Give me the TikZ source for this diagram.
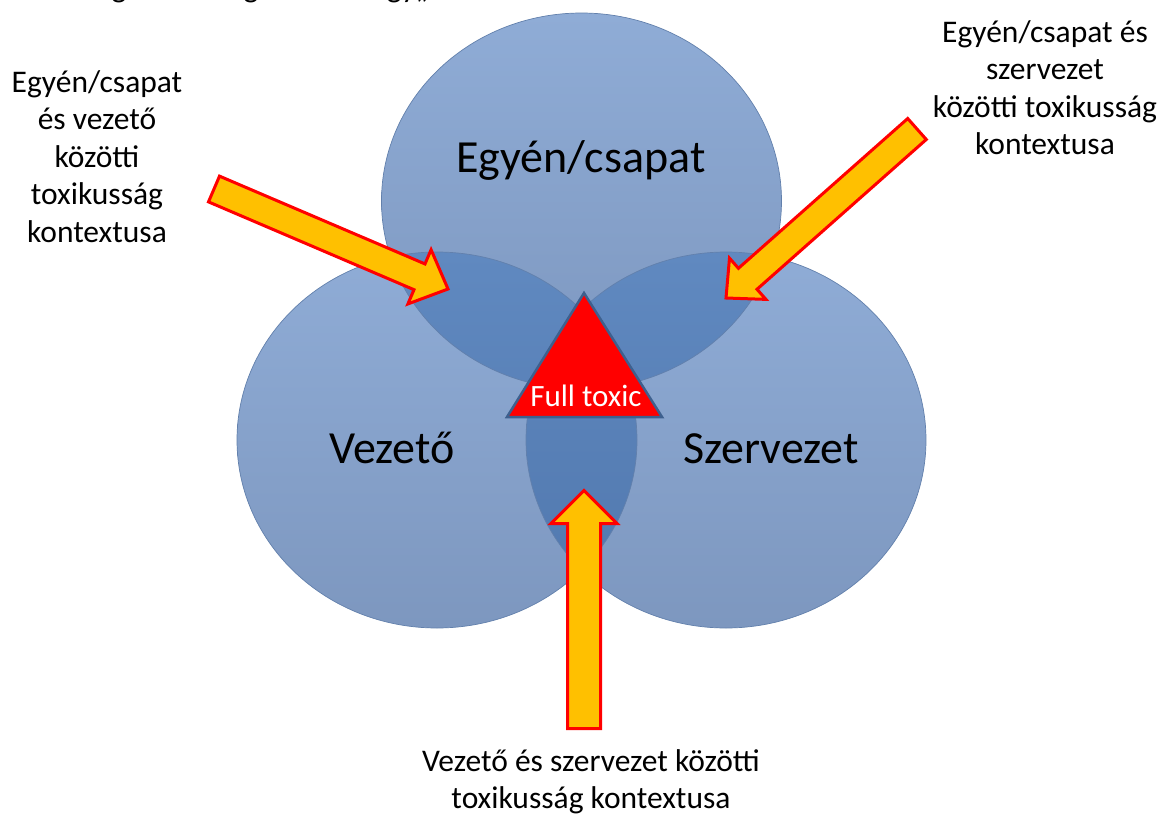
\documentclass[tikz,border=0pt]{standalone}
\usepackage{fontspec}
\setmainfont{Carlito}
\usetikzlibrary{calc}
\definecolor{circlight}{RGB}{143,172,214}
\definecolor{circdark}{RGB}{125,151,191}
\definecolor{lenslight}{RGB}{96,137,192}
\definecolor{lensdark}{RGB}{80,119,173}
\definecolor{edgeblue}{RGB}{98,128,172}
\definecolor{arrowfill}{RGB}{255,192,0}
\definecolor{triedge}{RGB}{62,96,142}
\tikzset{
  venn/.style={top color=circlight, bottom color=circdark},
  lens/.style={top color=lenslight, bottom color=lensdark},
  vennedge/.style={draw=edgeblue, line width=0.7pt},
  bigtext/.style={font=\fontsize{46}{50}\selectfont, text=black, inner sep=0pt},
  sidetext/.style={font=\fontsize{31.5}{37.5}\selectfont, align=center, inner sep=0pt},
  blockarr/.style={fill=arrowfill, draw=red, line width=3pt, line join=miter},
  cut/.style={font=\fontsize{31.5}{31.5}\selectfont, inner sep=0pt, anchor=base},
}
% #1 tail, #2 tip, #3 shaft half width, #4 head half width, #5 head length, #6 name
\newcommand\blockarrow[6]{%
  \coordinate (#6-h) at ($(#2)!#5!(#1)$);
  \draw[blockarr] ($(#1)!#3!90:(#2)$) -- ($(#6-h)!#3!90:(#2)$) -- ($(#6-h)!#4!90:(#2)$)
    -- (#2) -- ($(#6-h)!#4!-90:(#2)$) -- ($(#6-h)!#3!-90:(#2)$) -- ($(#1)!#3!-90:(#2)$) -- cycle;
}
\begin{document}
\begin{tikzpicture}[x=1pt, y=-1pt]
\useasboundingbox (0,0) rectangle (1163,814);
\fill[white] (0,0) rectangle (1163,814);

% cut-off line at the very top
\node[cut] (cutA) at (119,-3) {g};
\node[cut] (cutB) at (251,-3) {g};
\node[cut] (cutC) at (408,-3) {gy„};

% circle centres
\coordinate (cT) at (581.5,201);
\coordinate (cL) at (437,440);
\coordinate (cR) at (726,440);

% circles
\path[venn] (cT) ellipse [x radius=200pt, y radius=188pt];
\path[venn] (cL) ellipse [x radius=200pt, y radius=188pt];
\path[venn] (cR) ellipse [x radius=200pt, y radius=188pt];

% overlaps
\begin{scope}
  \clip (cT) ellipse [x radius=200pt, y radius=188pt];
  \path[lens] (cL) ellipse [x radius=200pt, y radius=188pt];
  \path[lens] (cR) ellipse [x radius=200pt, y radius=188pt];
\end{scope}
\begin{scope}
  \clip (cL) ellipse [x radius=200pt, y radius=188pt];
  \path[lens] (cR) ellipse [x radius=200pt, y radius=188pt];
\end{scope}

% outlines
\path[vennedge] (cT) ellipse [x radius=200pt, y radius=188pt];
\path[vennedge] (cL) ellipse [x radius=200pt, y radius=188pt];
\path[vennedge] (cR) ellipse [x radius=200pt, y radius=188pt];

% circle labels
\node[bigtext, anchor=base] (egyen) at (581,172) {Egyén/csapat};
\node[bigtext, anchor=base] (vezeto) at (392,463) {Vezető};
\node[bigtext, anchor=base] (szerv) at (771,463) {Szervezet};

% triangle
\coordinate (tA) at (584,293);
\coordinate (tB) at (662,417);
\coordinate (tC) at (507,417);
\draw[fill=red, draw=triedge, line width=2.5pt, line join=miter] (tA) -- (tB) -- (tC) -- cycle;
\node[font=\fontsize{31}{31}\selectfont, text=white, anchor=base, inner sep=0pt] (full) at (586,406) {Full toxic};

% arrows
\coordinate (lTail) at (214,189);
\coordinate (lTip) at (448,289);
\blockarrow{lTail}{lTip}{14pt}{29.5pt}{31pt}{la}
\coordinate (rTail) at (917,129);
\coordinate (rTip) at (726,298);
\blockarrow{rTail}{rTip}{14pt}{27.5pt}{29pt}{ra}
\coordinate (bTail) at (584,728.5);
\coordinate (bTip) at (584,490.5);
\blockarrow{bTail}{bTip}{16.5pt}{33pt}{33pt}{ba}

% side texts
\node[sidetext, anchor=north] (ltext) at (97,70) {Egyén/csapat\\és vezető\\közötti\\toxikusság\\kontextusa};
\node[sidetext, anchor=north] (rtext) at (1045,20) {Egyén/csapat és\\szervezet\\közötti toxikusság\\kontextusa};
\node[sidetext, anchor=north] (btext) at (591,749) {Vezető és szervezet közötti\\toxikusság kontextusa};
\end{tikzpicture}
\end{document}
